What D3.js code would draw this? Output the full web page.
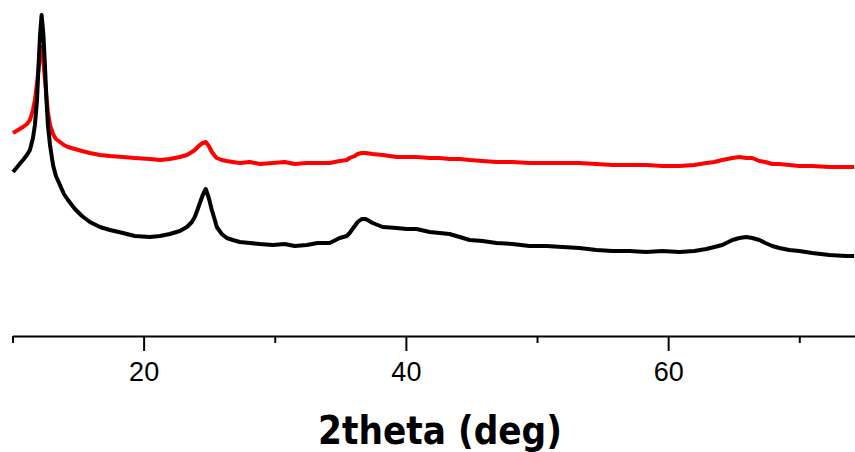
<!DOCTYPE html>
<html>
<head>
<meta charset="utf-8">
<script src="https://cdn.jsdelivr.net/npm/d3@7"></script>
<style>
  html, body { margin: 0; padding: 0; background: #fff; }
  svg { display: block; }
</style>
</head>
<body>
<svg id="chart" width="855" height="452"></svg>
<script>
// 2theta positions (deg)
const twoTheta = [
  10.04,10.42,10.80,11.10,11.33,11.56,11.71,11.87,11.98,12.10,
  12.22,12.36,12.48,12.59,12.70,12.86,13.09,13.31,13.62,13.92,
  14.23,14.76,15.30,15.90,16.67,17.43,18.42,19.33,20.48,21.24,
  22.00,22.76,23.30,23.68,23.90,24.13,24.29,24.51,24.74,24.97,
  25.20,25.43,25.58,25.96,26.34,26.80,27.33,28.10,28.86,29.85,
  30.76,31.52,32.44,33.28,34.19,34.95,35.49,35.71,36.10,36.32,
  36.63,36.93,37.47,38.23,39.30,40.06,40.82,41.81,42.57,43.33,
  44.10,44.86,45.85,46.91,48.13,49.43,50.72,51.94,53.24,54.53,
  55.75,57.05,58.34,59.56,60.86,62.00,62.91,63.52,64.13,64.90,
  65.43,65.96,66.42,66.95,67.41,67.94,68.48,69.24,70.00,70.99,
  72.29,73.58,74.19
];
// black pattern intensity (a.u.)
const blackSeries = [
  168,174,180,185,190,202,215,240,273,305,
  325,305,273,240,215,195,175,164,155,146,
  140,131,124,118,113,110,107,104,103,104,
  106,109,113,118,123,131,137,145,151,142,
  130,120,113,106,102,100,98,97,96,95,
  96,94,95,97,97,102,104,107,114,118,
  121,121,117,113,112,111,111,108,107,106,
  103,100,99,97,96,94,94,93,92,90,
  89,89,88,89,88,89,91,93,95,100,
  102,103,102,100,97,94,92,90,89,87,
  85,84,84
];
// red pattern intensity (a.u.)
const redSeries = [
  207,210,213,216,220,230,240,257,270,285,
  293,278,260,243,228,215,206,201,198,195,
  193,191,189,187,185,184,183,182,181,180,
  181,183,185,188,190,193,195,197,198,194,
  188,184,182,180,179,178,177,178,176,177,
  178,176,177,177,177,179,180,182,184,186,
  187,187,186,185,183,183,183,182,182,181,
  181,180,179,178,178,177,177,177,177,176,
  175,175,175,174,174,175,177,178,180,182,
  183,182,182,179,178,176,176,175,174,174,
  173,173,173
];
const majorTicks = [20, 40, 60];
const minorTicks = [10, 30, 50, 70];
const xLabel = "2theta (deg)";

const svg = d3.select("#chart");
const axisY = 336;
const x = d3.scaleLinear().domain([10, 74.25]).range([12.5, 855]);
const y = d3.scaleLinear().domain([0, 340]).range([340, 0]);

const line = d3.line()
  .x((d, i) => x(twoTheta[i]))
  .y(d => y(d))
  .curve(d3.curveLinear);

svg.append("path")
  .datum(redSeries)
  .attr("d", line)
  .attr("fill", "none")
  .attr("stroke", "#ff0000")
  .attr("stroke-width", 4)
  .attr("stroke-linejoin", "round");

svg.append("path")
  .datum(blackSeries)
  .attr("d", line)
  .attr("fill", "none")
  .attr("stroke", "#000000")
  .attr("stroke-width", 4)
  .attr("stroke-linejoin", "round");

// minor ticks
const minorAxis = svg.append("g")
  .attr("transform", `translate(0,${axisY})`)
  .call(d3.axisBottom(x).tickValues(minorTicks).tickSize(7).tickSizeOuter(0).tickFormat(""));
minorAxis.select(".domain").remove();
minorAxis.selectAll("line").attr("stroke", "#000").attr("stroke-width", 2);

// major ticks + domain
const majorAxis = svg.append("g")
  .attr("transform", `translate(0,${axisY})`)
  .call(d3.axisBottom(x).tickValues(majorTicks).tickSize(15).tickSizeOuter(0).tickPadding(11).tickFormat(d3.format("d")));
majorAxis.select(".domain").attr("stroke", "#000").attr("stroke-width", 2.2);
majorAxis.selectAll(".tick line").attr("stroke", "#000").attr("stroke-width", 2);
majorAxis.selectAll("text")
  .attr("fill", "#000")
  .style("font-family", "'Liberation Sans', Arial, sans-serif")
  .style("font-size", "27px");

svg.append("text")
  .attr("x", 440)
  .attr("y", 444)
  .attr("text-anchor", "middle")
  .attr("textLength", 244)
  .attr("lengthAdjust", "spacingAndGlyphs")
  .style("font-family", "'DejaVu Sans Condensed', 'DejaVu Sans', sans-serif")
  .style("font-weight", "bold")
  .style("font-size", "39px")
  .text(xLabel);
</script>
</body>
</html>
